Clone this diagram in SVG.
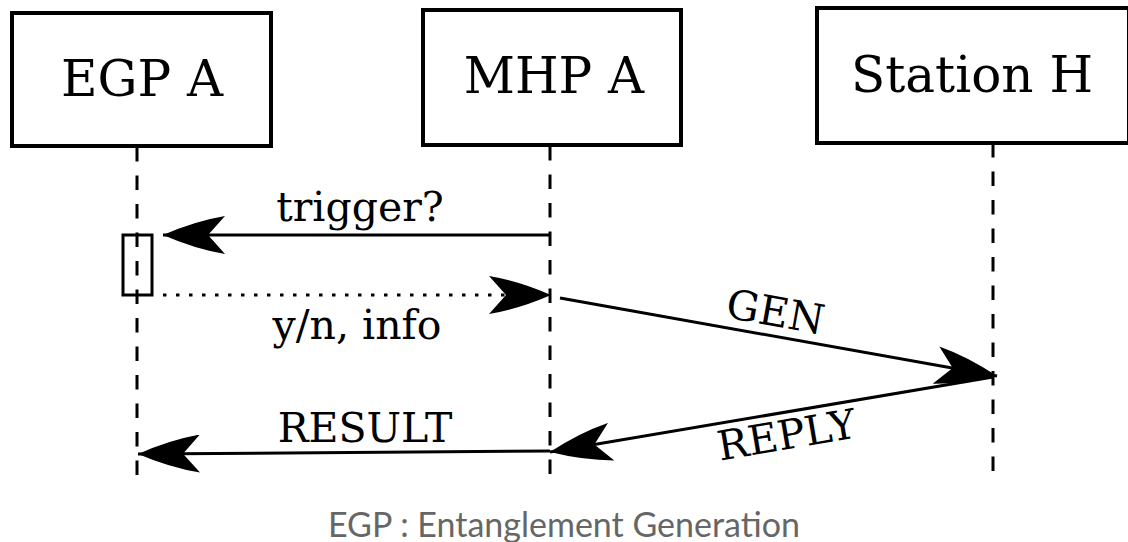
<svg xmlns="http://www.w3.org/2000/svg" width="1128" height="542" viewBox="0 0 1128 542">
  <style>
    .box { fill: #fff; stroke: #000; stroke-width: 4; }
    .title { font-family: "DejaVu Serif", serif; font-size: 50px; fill: #000; text-anchor: middle; }
    .lbl { font-family: "DejaVu Serif", serif; font-size: 41px; fill: #000; text-anchor: middle; }
    .life { fill: none; stroke: #000; stroke-width: 3; stroke-dasharray: 14.5 14; }
    .msg { fill: none; stroke: #000; stroke-width: 3; marker-end: url(#head); }
    .dot { stroke-dasharray: 3.5 9.5; }
    .act { fill: none; stroke: #000; stroke-width: 3; }
    .caption { font-family: Lato, "Liberation Sans", sans-serif; font-size: 34px; fill: #666; text-anchor: middle; }
  </style>
  <defs>
    <!-- filled barbed arrowhead, tip at the line end -->
    <marker id="head" viewBox="0 0 62 38" markerWidth="62" markerHeight="38" refX="62" refY="19" orient="auto" markerUnits="userSpaceOnUse">
      <path d="M62,19 Q30,5 0,0 L17,19 L0,38 Q30,33 62,19 Z" fill="#000"/>
    </marker>
  </defs>

  <!-- lifelines -->
  <g id="lifelines">
    <line class="life" x1="137" y1="147" x2="137" y2="483"/>
    <line class="life" x1="550" y1="146" x2="550" y2="483"/>
    <line class="life" x1="993" y1="143" x2="993" y2="485"/>
  </g>

  <!-- participants -->
  <g id="egp-a">
    <rect class="box" x="12" y="13" width="259" height="133"/>
    <text class="title" x="142" y="96">EGP A</text>
  </g>
  <g id="mhp-a">
    <rect class="box" x="423" y="10" width="258" height="135"/>
    <text class="title" x="554" y="93">MHP A</text>
  </g>
  <g id="station-h">
    <rect class="box" x="817" y="8" width="312" height="135"/>
    <text class="title" x="972" y="92">Station H</text>
  </g>

  <!-- activation on EGP A -->
  <g id="egp-a-activation">
    <rect class="act" x="123" y="235" width="29" height="60"/>
  </g>

  <!-- messages -->
  <g id="connectors">
    <path class="msg" d="M550,235 L163,235"/>
    <path class="msg dot" d="M163,295 L551,295"/>
    <path class="msg" d="M560,298 L997,376"/>
    <path class="msg" d="M993,377 L550,452"/>
    <path class="msg" d="M550,451 L138,454"/>
  </g>

  <!-- message labels -->
  <g id="labels">
    <text class="lbl" x="360" y="221">trigger?</text>
    <text class="lbl" x="357" y="339">y/n, info</text>
    <text class="lbl" x="773" y="326" transform="rotate(10.1 773 326)">GEN</text>
    <text class="lbl" x="789" y="449" transform="rotate(-9.6 789 449)">REPLY</text>
    <text class="lbl" x="365" y="442">RESULT</text>
  </g>

  <text class="caption" x="564" y="537">EGP : Entanglement Generation</text>
</svg>
